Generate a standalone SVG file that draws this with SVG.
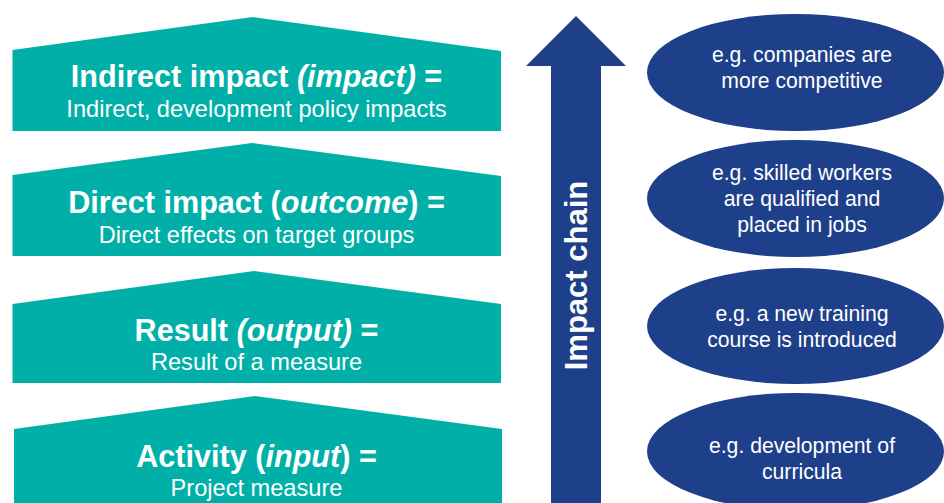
<svg xmlns="http://www.w3.org/2000/svg" width="944" height="503" viewBox="0 0 944 503">
  <style>
    .level { fill: #00B0A8; }
    .bubble { fill: #1E3F89; }
    .title { font-family: "Liberation Sans", Arial, sans-serif; font-weight: bold; font-size: 30.6px; fill: #ffffff; text-anchor: middle; }
    .sub { font-family: "Liberation Sans", Arial, sans-serif; font-size: 23.6px; fill: #ffffff; text-anchor: middle; }
    .ex { font-family: "Liberation Sans", Arial, sans-serif; font-size: 21.2px; fill: #ffffff; text-anchor: middle; }
    .chain { font-family: "Liberation Sans", Arial, sans-serif; font-weight: bold; font-size: 31px; fill: #ffffff; text-anchor: middle; }
    .it { font-style: italic; }
  </style>

  <!-- Levels of the impact chain (house-shaped blocks) -->
  <g id="level-impact">
    <polygon class="level" points="12.5,50 253,17 501,51 501,131 12.5,131"/>
    <text class="title" x="256.5" y="87">Indirect impact <tspan class="it">(impact)</tspan> =</text>
    <text class="sub" x="256.5" y="117">Indirect, development policy impacts</text>
  </g>

  <g id="level-outcome">
    <polygon class="level" points="12.5,175 252,143 501,176 501,256 12.5,256"/>
    <text class="title" x="256.5" y="213">Direct impact (<tspan class="it">outcome</tspan>) =</text>
    <text class="sub" x="256.5" y="243">Direct effects on target groups</text>
  </g>

  <g id="level-output">
    <polygon class="level" points="12.5,304 254,271 501,304 501,383 12.5,383"/>
    <text class="title" x="256.5" y="341">Result <tspan class="it">(output)</tspan> =</text>
    <text class="sub" x="256.5" y="370">Result of a measure</text>
  </g>

  <g id="level-input">
    <polygon class="level" points="14,429 255,396 502,429 502,503 14,503"/>
    <text class="title" x="256.5" y="467">Activity (<tspan class="it">input</tspan>) =</text>
    <text class="sub" x="256.5" y="496">Project measure</text>
  </g>

  <!-- Upward arrow labelled "Impact chain" -->
  <g id="connectors">
    <g id="impact-chain">
      <polygon class="bubble" points="576,16 626,66 601,66 601,503 551,503 551,66 526,66"/>
      <text class="chain" transform="translate(587,275.5) rotate(-90)">Impact chain</text>
    </g>
  </g>

  <!-- Examples -->
  <g id="example-impact">
    <ellipse class="bubble" cx="795.5" cy="72.5" rx="148.5" ry="58.5"/>
    <text class="ex" x="802" y="62">e.g. companies are</text>
    <text class="ex" x="802" y="88">more competitive</text>
  </g>

  <g id="example-outcome">
    <ellipse class="bubble" cx="795.5" cy="198.5" rx="148.5" ry="58.5"/>
    <text class="ex" x="802" y="180">e.g. skilled workers</text>
    <text class="ex" x="802" y="206">are qualified and</text>
    <text class="ex" x="802" y="232">placed in jobs</text>
  </g>

  <g id="example-output">
    <ellipse class="bubble" cx="795.5" cy="326" rx="148.5" ry="58"/>
    <text class="ex" x="802" y="321">e.g. a new training</text>
    <text class="ex" x="802" y="347">course is introduced</text>
  </g>

  <g id="example-input">
    <ellipse class="bubble" cx="795.5" cy="451.5" rx="148.5" ry="58.5"/>
    <text class="ex" x="802" y="453">e.g. development of</text>
    <text class="ex" x="802" y="479">curricula</text>
  </g>
</svg>
